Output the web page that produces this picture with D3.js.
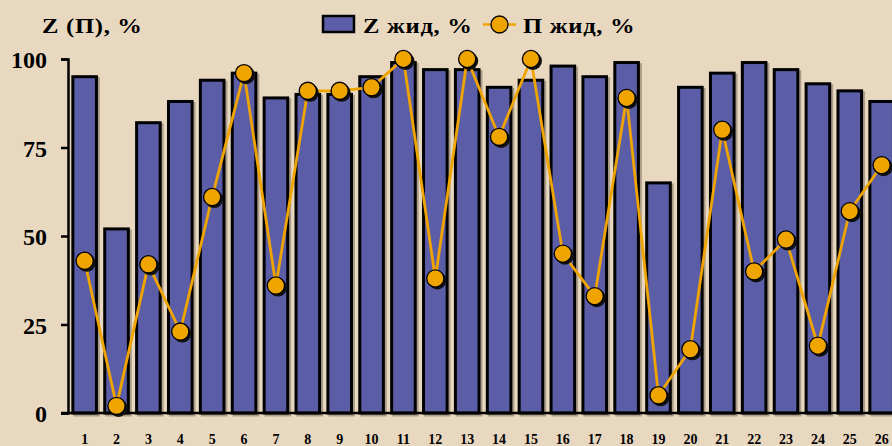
<!DOCTYPE html>
<html>
<head>
<meta charset="utf-8">
<script src="https://cdn.jsdelivr.net/npm/d3@7/dist/d3.min.js"></script>
<style>
  html, body { margin: 0; padding: 0; background: #E9D8C0; }
  svg { display: block; }
  text { font-family: "Liberation Serif", "Times New Roman", serif; font-weight: bold; fill: #000; }
</style>
</head>
<body>
<svg id="chart" width="892" height="446"></svg>
<script>
// Sites 1..26
const categories = d3.range(1, 27).map(String);
// Z жид, % (bars)
const zValues = [95, 52, 82, 88, 94, 96, 89, 90, 90, 95, 99, 97, 97, 92, 94, 98, 95, 99, 65, 92, 96, 99, 97, 93, 91, 88];
// П жид, % (line with markers)
const pValues = [43, 2, 42, 23, 61, 96, 36, 91, 91, 92, 100, 38, 100, 78, 100, 45, 33, 89, 5, 18, 80, 40, 49, 19, 57, 70];
const yTicks = [0, 25, 50, 75, 100];

const BG = "#E9D8C0", BAR = "#5B5EA6", ORANGE = "#F0A400";

const svg = d3.select("#chart");
svg.append("rect").attr("width", 892).attr("height", 446).attr("fill", BG);

const x = d3.scaleBand().domain(categories).range([68.7, 897.6]).paddingInner(0.26).paddingOuter(0.13);
const y = d3.scaleLinear().domain([0, 100]).range([413, 59]);

const data = categories.map((c, i) => ({ c, z: zValues[i], p: pValues[i] }));

// bar shadows
svg.append("g").selectAll("rect").data(data).join("rect")
  .attr("x", d => x(d.c) + 2)
  .attr("y", d => y(d.z) + 2)
  .attr("width", x.bandwidth())
  .attr("height", d => y(0) - y(d.z))
  .attr("fill", "none")
  .attr("stroke", "rgba(60,50,40,0.35)")
  .attr("stroke-width", 3);

// bars
svg.append("g").selectAll("rect").data(data).join("rect")
  .attr("x", d => x(d.c))
  .attr("y", d => y(d.z))
  .attr("width", x.bandwidth())
  .attr("height", d => y(0) - y(d.z))
  .attr("fill", BAR)
  .attr("stroke", "#000")
  .attr("stroke-width", 3);

// y axis
const yAxis = svg.append("g").attr("transform", "translate(68,0)")
  .call(d3.axisLeft(y).tickValues(yTicks).tickSize(7).tickSizeOuter(7).tickPadding(14));
yAxis.select(".domain").attr("stroke", "#000").attr("stroke-width", 2.5);
yAxis.selectAll(".tick line").attr("stroke", "#000").attr("stroke-width", 2.5);
yAxis.selectAll(".tick text")
  .attr("font-family", "Liberation Serif, serif").attr("font-weight", "bold")
  .attr("font-size", 24).attr("fill", "#000").attr("dy", "0.36em");

// x axis
svg.append("line")
  .attr("x1", 61).attr("x2", 892).attr("y1", y(0)).attr("y2", y(0))
  .attr("stroke", "#000").attr("stroke-width", 2.5);
const xAxis = svg.append("g").attr("transform", `translate(0,${y(0)})`)
  .call(d3.axisBottom(x).tickSize(0).tickPadding(0));
xAxis.select(".domain").remove();
xAxis.selectAll(".tick text")
  .attr("font-family", "Liberation Serif, serif").attr("font-weight", "bold")
  .attr("font-size", 14).attr("fill", "#000")
  .attr("y", 31).attr("dy", 0);

// line
const line = d3.line().x(d => x(d.c) + x.bandwidth() / 2).y(d => y(d.p));
svg.append("path").datum(data)
  .attr("d", line)
  .attr("fill", "none")
  .attr("stroke", ORANGE)
  .attr("stroke-width", 2.8);

// marker shadows and markers
svg.append("g").selectAll("circle").data(data).join("circle")
  .attr("cx", d => x(d.c) + x.bandwidth() / 2 + 2)
  .attr("cy", d => y(d.p) + 2)
  .attr("r", 9)
  .attr("fill", "#111");
svg.append("g").selectAll("circle").data(data).join("circle")
  .attr("cx", d => x(d.c) + x.bandwidth() / 2)
  .attr("cy", d => y(d.p))
  .attr("r", 8.6)
  .attr("fill", ORANGE)
  .attr("stroke", "#000")
  .attr("stroke-width", 1.3);

// wide bold heading text
function wideText(px, py, str) {
  svg.append("g").attr("transform", `translate(${px},${py}) scale(1.2,1)`)
    .append("text").attr("font-size", 20.5).attr("letter-spacing", 0.6).text(str);
}

// axis title
wideText(42, 33, "Z (П), %");

// legend
svg.append("rect").attr("x", 323).attr("y", 16).attr("width", 31).attr("height", 16)
  .attr("fill", BAR).attr("stroke", "#000").attr("stroke-width", 2.5);
wideText(363, 33, "Z жид, %");
svg.append("line").attr("x1", 483).attr("x2", 516).attr("y1", 24.5).attr("y2", 24.5)
  .attr("stroke", ORANGE).attr("stroke-width", 2.6);
svg.append("circle").attr("cx", 499.5).attr("cy", 24.5).attr("r", 8.5)
  .attr("fill", ORANGE).attr("stroke", "#000").attr("stroke-width", 1.3);
wideText(523, 33, "П жид, %");
</script>
</body>
</html>
